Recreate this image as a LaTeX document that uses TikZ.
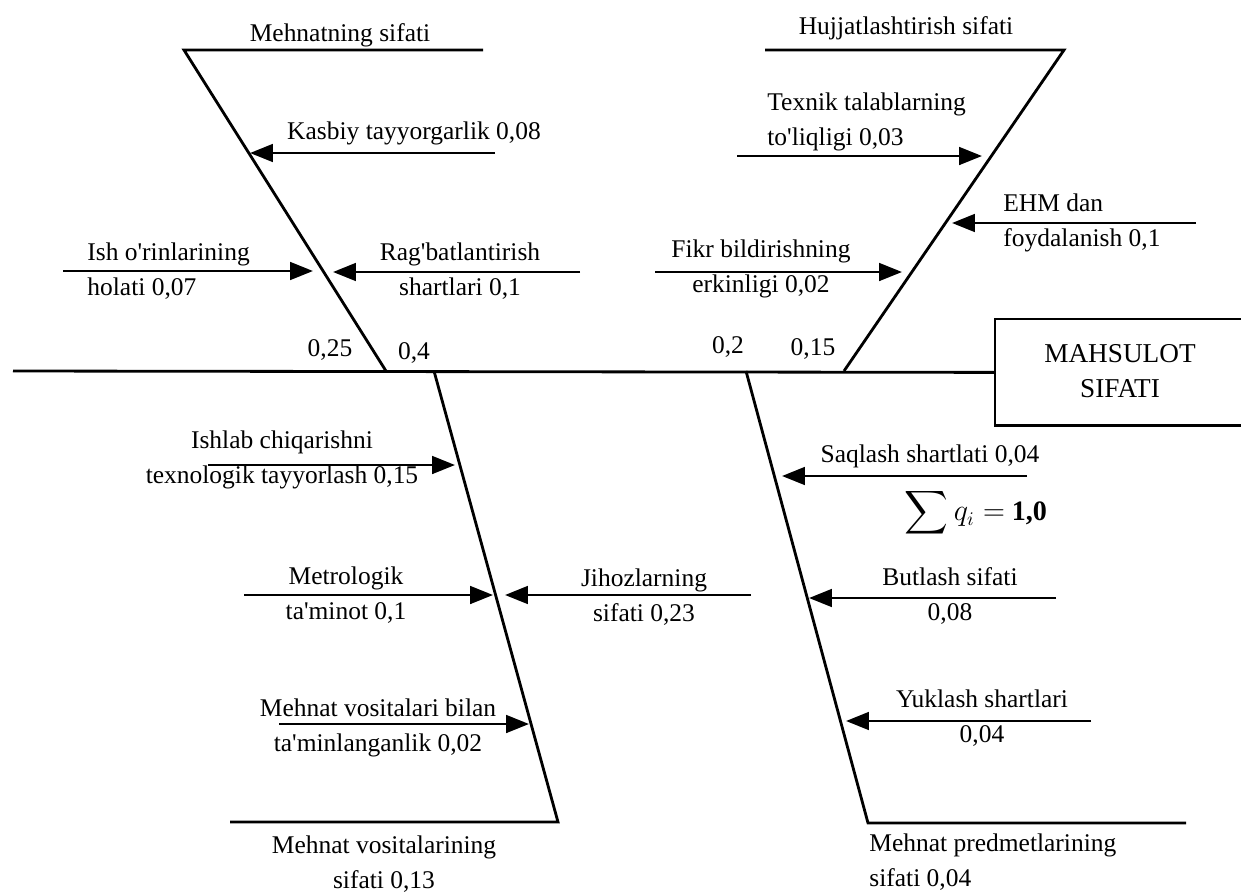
\documentclass[tikz,border=0pt]{standalone}
\usepackage{amsmath}
\usepackage{fontspec}
\setmainfont{Liberation Serif}
\usetikzlibrary{arrows.meta}
\newcommand{\ap}{\textquotesingle}
\begin{document}
\begin{tikzpicture}[x=0.02cm, y=-0.02cm, line width=1.6pt, every node/.style={inner sep=0pt, font=\fontsize{14.5}{19.5}\selectfont}]
\tikzstyle{cause}=[-{Triangle[length=13pt,width=10pt]}]
\tikzstyle{lbl}=[align=center]
\useasboundingbox (0,0) rectangle (1241,893);
\node [anchor=north west, minimum width=5.6cm, minimum height=2.08cm] (box) at (995,319) {};
\draw (box.north east) -- (box.north west) -- (box.south west) -- (box.south east);
\node [align=center, font=\fontsize{15.5}{19.5}\selectfont] (boxtxt) at (1120,371) {MAHSULOT\\SIFATI};
\coordinate (s0) at (13,371);
\coordinate (h1) at (386,371);
\coordinate (h2) at (434,371);
\coordinate (h3) at (746,371);
\coordinate (h4) at (844,371);
\coordinate (a0) at (184,50);
\coordinate (a1) at (483,50);
\coordinate (b0) at (765,50);
\coordinate (b1) at (1064,50);
\coordinate (c0) at (558,822);
\coordinate (c1) at (230,822);
\coordinate (d0) at (868,823);
\coordinate (d1) at (1186,823);
\draw (s0) -- (box.west);
\draw (a1) -- (a0) -- (h1);
\draw (b0) -- (b1) -- (h4);
\draw (h2) -- (c0) -- (c1);
\draw (h3) -- (d0) -- (d1);
\node (mehnat) at (340,35) {Mehnatning sifati};
\node (hujjat) at (906,28) {Hujjatlashtirish sifati};
\node [lbl] (vosita) at (384,864) {Mehnat vositalarining\\sifati 0,13};
\node [align=left, anchor=west] (predmet) at (868,862) {Mehnat predmetlarining\\sifati 0,04};
\node (q1) at (330,350) {0,25};
\node (q2) at (414,353) {0,4};
\node (q3) at (728,347) {0,2};
\node (q4) at (813,349) {0,15};
\coordinate (kasbiy0) at (495,153);
\coordinate (kasbiy1) at (250,153);
\draw [cause] (kasbiy0) -- (kasbiy1);
\node (kasbiy) at (414,133) {Kasbiy tayyorgarlik 0,08};
\coordinate (ish0) at (63,271);
\coordinate (ish1) at (313,271);
\draw [cause] (ish0) -- (ish1);
\node [align=left, anchor=west] (ish) at (86,271) {Ish o\ap rinlarining\\holati 0,07};
\coordinate (rag0) at (580,272);
\coordinate (rag1) at (333,272);
\draw [cause] (rag0) -- (rag1);
\node [lbl] (rag) at (460,271) {Rag\ap batlantirish\\shartlari 0,1};
\coordinate (texnik0) at (737,156);
\coordinate (texnik1) at (982,156);
\draw [cause] (texnik0) -- (texnik1);
\node [align=left, anchor=west] (texnik) at (766,122) {Texnik talablarning\\to\ap liqligi 0,03};
\coordinate (ehm0) at (1196,223);
\coordinate (ehm1) at (952,223);
\draw [cause] (ehm0) -- (ehm1);
\node [align=left, anchor=west] (ehm) at (1002,223) {EHM dan\\foydalanish 0,1};
\coordinate (fikr0) at (655,272);
\coordinate (fikr1) at (902,272);
\draw [cause] (fikr0) -- (fikr1);
\node [lbl] (fikr) at (761,269) {Fikr bildirishning\\erkinligi 0,02};
\coordinate (ishlab0) at (208,465);
\coordinate (ishlab1) at (455,465);
\draw [cause] (ishlab0) -- (ishlab1);
\node [lbl] (ishlab) at (282,460) {Ishlab chiqarishni\\texnologik tayyorlash 0,15};
\coordinate (metro0) at (244,595);
\coordinate (metro1) at (493,595);
\draw [cause] (metro0) -- (metro1);
\node [lbl] (metro) at (346,595) {Metrologik\\ta\ap minot 0,1};
\coordinate (jihoz0) at (751,595);
\coordinate (jihoz1) at (505,595);
\draw [cause] (jihoz0) -- (jihoz1);
\node [lbl] (jihoz) at (644,597) {Jihozlarning\\sifati 0,23};
\coordinate (bilan0) at (279,724);
\coordinate (bilan1) at (529,724);
\draw [cause] (bilan0) -- (bilan1);
\node [lbl] (bilan) at (378,728) {Mehnat vositalari bilan\\ta\ap minlanganlik 0,02};
\coordinate (saqlash0) at (1027,476);
\coordinate (saqlash1) at (782,476);
\draw [cause] (saqlash0) -- (saqlash1);
\node (saqlash) at (930,456) {Saqlash shartlati 0,04};
\node [font=\fontsize{16}{19}\selectfont] (summa) at (976,513) {$\displaystyle\sum q_i = $ \textbf{1,0}};
\coordinate (butlash0) at (1056,598);
\coordinate (butlash1) at (809,598);
\draw [cause] (butlash0) -- (butlash1);
\node [lbl] (butlash) at (950,596) {Butlash sifati\\0,08};
\coordinate (yuklash0) at (1091,721);
\coordinate (yuklash1) at (846,721);
\draw [cause] (yuklash0) -- (yuklash1);
\node [lbl] (yuklash) at (982,718) {Yuklash shartlari\\0,04};
\end{tikzpicture}
\end{document}
